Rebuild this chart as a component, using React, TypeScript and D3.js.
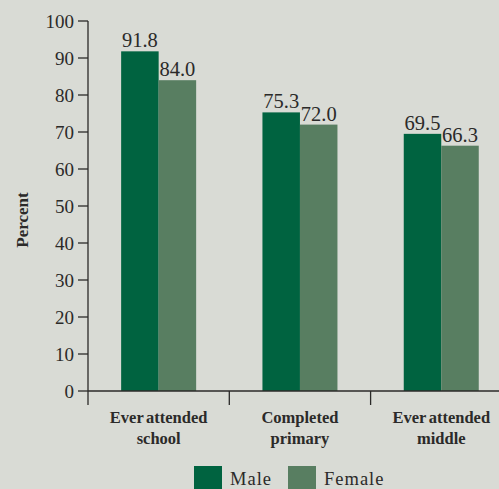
import React from "react";
import * as d3 from "d3";

const categories = [["Ever attended", "school"], ["Completed", "primary"], ["Ever attended", "middle"]];
const seriesNames = ["Male", "Female"];
const maleValues = [91.8, 75.3, 69.5];
const femaleValues = [84.0, 72.0, 66.3];
const yTicks = [0, 10, 20, 30, 40, 50, 60, 70, 80, 90, 100];

const W = 499, H = 489;
const colors = ["#006340", "#587e61"];
const bg = "#d9dbd5";
const ink = "#2b2a29";
const font = "Liberation Serif, DejaVu Serif, serif";

export default function App() {
  const x0 = 88;
  const step = 141.3;
  const x = d3.scaleBand<number>().domain([0, 1, 2]).range([x0, x0 + step * 3]).padding(0);
  const y = d3.scaleLinear().domain([0, 100]).range([391, 21]);
  const barW = 37.5;
  const series = [maleValues, femaleValues];

  return (
    <svg width={W} height={H} style={{ position: "absolute", left: 0, top: 0, background: bg, fontFamily: font }}>
      <rect x={0} y={0} width={W} height={H} fill={bg} />
      {categories.map((c, i) => {
        const cx = (x(i) as number) + x.bandwidth() / 2;
        return (
          <g key={i}>
            {series.map((vals, s) => {
              const bx = cx - barW + s * barW;
              return (
                <g key={s}>
                  <rect x={bx} y={y(vals[i])} width={barW} height={y(0) - y(vals[i])} fill={colors[s]} />
                  <text x={bx + barW / 2} y={y(vals[i]) - 4} textAnchor="middle" fontSize={20.5} fill={ink}>
                    {vals[i].toFixed(1)}
                  </text>
                </g>
              );
            })}
            <text textAnchor="middle" fontSize={16.5} fontWeight="bold" fill={ink} wordSpacing={-1.5}>
              <tspan x={cx} y={423}>{c[0]}</tspan>
              <tspan x={cx} y={444}>{c[1]}</tspan>
            </text>
          </g>
        );
      })}
      <line x1={x0} x2={x0} y1={y(100)} y2={405} stroke={ink} strokeWidth={1.3} />
      {yTicks.map((t) => (
        <g key={t}>
          <line x1={x0 - 10} x2={x0} y1={y(t)} y2={y(t)} stroke={ink} strokeWidth={1.3} />
          <text x={x0 - 14} y={y(t) + 6.5} textAnchor="end" fontSize={19} fill={ink}>{t}</text>
        </g>
      ))}
      <line x1={x0} x2={W} y1={y(0)} y2={y(0)} stroke={ink} strokeWidth={1.3} />
      {[1, 2].map((i) => (
        <line key={i} x1={x(i) as number} x2={x(i) as number} y1={y(0)} y2={405} stroke={ink} strokeWidth={1.3} />
      ))}
      <text transform={`translate(28,220) rotate(-90)`} textAnchor="middle" fontSize={17} fontWeight="bold" fill={ink}>
        Percent
      </text>
      {seriesNames.map((n, s) => {
        const lx = s === 0 ? 194 : 288;
        return (
          <g key={n}>
            <rect x={lx} y={466} width={28} height={24} fill={colors[s]} />
            <text x={lx + 36} y={485} fontSize={18.5} fill={ink} letterSpacing={1}>{n}</text>
          </g>
        );
      })}
    </svg>
  );
}
